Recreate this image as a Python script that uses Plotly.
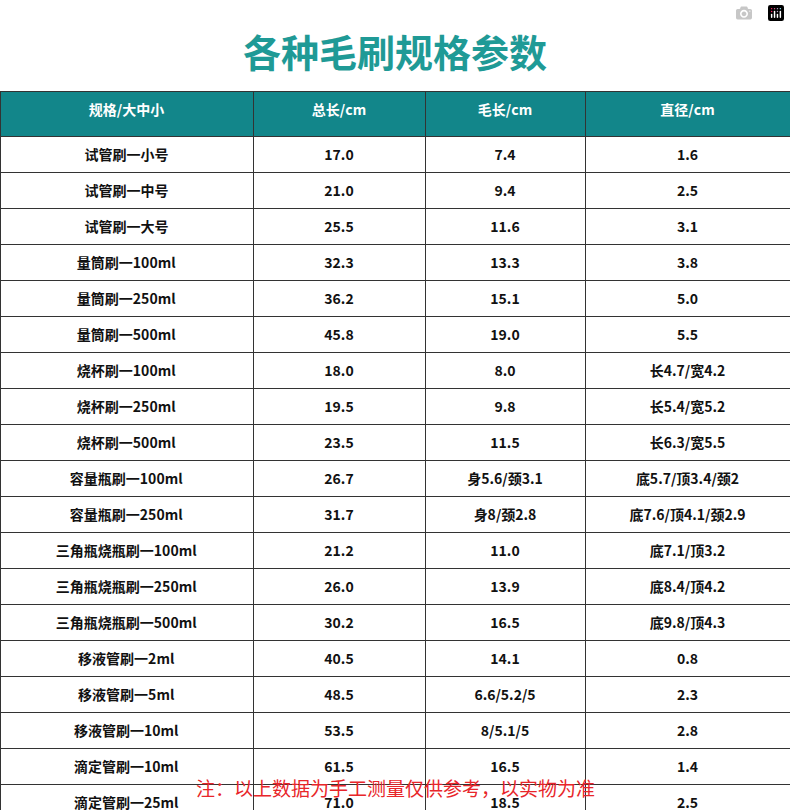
import plotly.graph_objects as go

headers = ["规格/大中小", "总长/cm", "毛长/cm", "直径/cm"]
names = ["试管刷一小号","试管刷一中号","试管刷一大号","量筒刷一100ml","量筒刷一250ml","量筒刷一500ml",
         "烧杯刷一100ml","烧杯刷一250ml","烧杯刷一500ml","容量瓶刷一100ml","容量瓶刷一250ml",
         "三角瓶烧瓶刷一100ml","三角瓶烧瓶刷一250ml","三角瓶烧瓶刷一500ml","移液管刷一2ml",
         "移液管刷一5ml","移液管刷一10ml","滴定管刷一10ml","滴定管刷一25ml","滴定管刷一50ml"]
total_len = ["17.0","21.0","25.5","32.3","36.2","45.8","18.0","19.5","23.5","26.7","31.7",
             "21.2","26.0","30.2","40.5","48.5","53.5","61.5","71.0","78.5"]
bristle_len = ["7.4","9.4","11.6","13.3","15.1","19.0","8.0","9.8","11.5","身5.6/颈3.1","身8/颈2.8",
               "11.0","13.9","16.5","14.1","6.6/5.2/5","8/5.1/5","16.5","18.5","21.0"]
diameter = ["1.6","2.5","3.1","3.8","5.0","5.5","长4.7/宽4.2","长5.4/宽5.2","长6.3/宽5.5",
            "底5.7/顶3.4/颈2","底7.6/顶4.1/颈2.9","底7.1/顶3.2","底8.4/顶4.2","底9.8/顶4.3",
            "0.8","2.3","2.8","1.4","2.5","2.1"]

b = lambda l: ["<b>%s</b>" % s for s in l]
font = "Noto Sans CJK SC"
fig = go.Figure(go.Table(
    columnwidth=[253, 172, 160, 205],
    domain=dict(x=[0, 1], y=[0, 1 - 91/810]),
    header=dict(values=b(headers), fill_color="#12868a", height=45,
                font=dict(color="white", size=14, family=font), align="center",
                line=dict(color="#333333", width=1)),
    cells=dict(values=[b(names), b(total_len), b(bristle_len), b(diameter)],
               fill_color="white", height=31.7,
               font=dict(color="#111111", size=14, family=font), align="center",
               line=dict(color="#333333", width=1)),
))
fig.add_annotation(text="<b>各种毛刷规格参数</b>", x=0.5, y=1-50/810, xref="paper", yref="paper",
                   yanchor="middle", showarrow=False, font=dict(size=38, color="#1f9a96", family=font))
fig.add_annotation(text="注：以上数据为手工测量仅供参考，以实物为准", x=0.5, y=1-787/810,
                   xref="paper", yref="paper", yanchor="middle", showarrow=False,
                   font=dict(size=19, color="#e8262a", family=font))
fig.update_layout(width=790, height=810, margin=dict(l=0, r=0, t=0, b=0),
                  paper_bgcolor="white")
fig.write_html("out.html", post_script="document.body.style.margin='0';")
